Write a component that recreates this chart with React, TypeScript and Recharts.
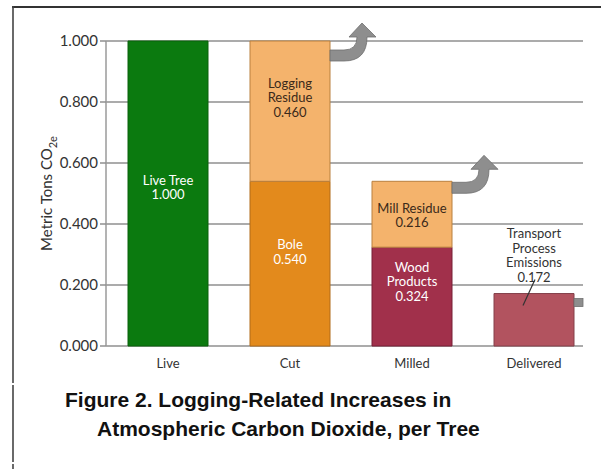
import React from 'react';
import {
  BarChart,
  Bar,
  XAxis,
  YAxis,
  CartesianGrid,
  Cell,
  LabelList,
} from 'recharts';

// Carbon per tree at each stage (metric tons CO2e)
const stages = ['Live', 'Cut', 'Milled', 'Delivered'];
const retainedValues = [1.0, 0.54, 0.324, 0.172];
const releasedValues = [0, 0.46, 0.216, 0];
const retainedNames = [['Live Tree'], ['Bole'], ['Wood', 'Products'], ['Transport', 'Process', 'Emissions']];
const releasedNames = [[], ['Logging', 'Residue'], ['Mill Residue'], []];
const yTicks = [0, 0.2, 0.4, 0.6, 0.8, 1.0];

const retainedColors = ['#0b7a0f', '#e38a1c', '#a1304b', '#b2535f'];
const retainedStrokes = ['#0a600c', '#b06a18', '#761f36', '#84404a'];
const releasedColor = '#f4b36c';
const releasedStroke = '#b9803f';

const data = stages.map((stage, i) => ({
  stage,
  retained: retainedValues[i],
  released: releasedValues[i],
}));

const FONT = 'Lato, "DejaVu Sans", sans-serif';
const LINE = 14.5;

const boxOf = (p: any) => {
  const vb = p.viewBox && p.viewBox.width !== undefined ? p.viewBox : p;
  return { x: Number(vb.x), y: Number(vb.y), width: Number(vb.width), height: Number(vb.height) };
};

// find which stage a segment belongs to from its value (zero-height segments get no label)
const stageOf = (values: number[], v: any) => values.findIndex((x) => x > 0 && Math.abs(x - Number(v)) < 1e-9);

const TextBlock = ({ cx, cy, lines, fill }: { cx: number; cy: number; lines: string[]; fill: string }) => {
  const start = cy - ((lines.length - 1) * LINE) / 2;
  return (
    <g>
      {lines.map((t, k) => (
        <text
          key={k}
          x={cx}
          y={start + k * LINE}
          textAnchor="middle"
          dominantBaseline="central"
          fill={fill}
          fontFamily={FONT}
          fontSize={13}
        >
          {t}
        </text>
      ))}
    </g>
  );
};

// how far below a segment's top its caption block is centred
const retainedDrop = [146, 70, 34];
const releasedDrop = [0, 56, 33.5];

const RetainedLabel = (props: any) => {
  const index = stageOf(retainedValues, props.value);
  if (index < 0) return null;
  const { x, y, width } = boxOf(props);
  const cx = x + width / 2;
  const lines = [...retainedNames[index], retainedValues[index].toFixed(3)];
  if (index === 3) {
    // caption sits above the short bar, with a leader line and an outgoing stub
    return (
      <g>
        <TextBlock cx={cx} cy={y - 17 - 1.5 * LINE} lines={lines} fill="#333" />
        <line x1={cx + 1} y1={y - 14} x2={cx - 11} y2={y + 12} stroke="#333" strokeWidth={1.2} />
        <rect x={x + width} y={y + 5} width={9} height={8} fill="#8e8e8e" stroke="#707070" strokeWidth={0.8} />
      </g>
    );
  }
  return <TextBlock cx={cx} cy={y + retainedDrop[index]} lines={lines} fill="#ffffff" />;
};

const ReleasedLabel = (props: any) => {
  const index = stageOf(releasedValues, props.value);
  if (index < 0) return null;
  const { x, y, width } = boxOf(props);
  const cx = x + width / 2;
  const lines = [...releasedNames[index], releasedValues[index].toFixed(3)];
  const ax = x + width;
  const ay = y + (index === 1 ? 9 : 1);
  const arrow = `M0,0 L14,0 Q27,0 27,-13 L19,-13 L32,-27 L46,-13 L37,-13 Q37,11 14,11 L0,11 Z`;
  return (
    <g>
      <TextBlock cx={cx} cy={y + releasedDrop[index]} lines={lines} fill="#3b2a1a" />
      <path d={arrow} transform={`translate(${ax},${ay})`} fill="#8e8e8e" stroke="#6e6e6e" strokeWidth={0.8} />
    </g>
  );
};

const StageTick = (props: any) => {
  const { x, y, payload } = props;
  return (
    <text x={x} y={y + 9} textAnchor="middle" dominantBaseline="central" fill="#333" fontFamily={FONT} fontSize={13}>
      {payload.value}
    </text>
  );
};

const YTitle = (props: any) => {
  const vb = props.viewBox;
  const cx = vb.x;
  const cy = vb.y + vb.height / 2;
  return (
    <text
      x={cx}
      y={cy}
      transform={`rotate(-90 ${cx} ${cy})`}
      textAnchor="middle"
      dominantBaseline="central"
      fill="#333"
      fontFamily={FONT}
      fontSize={15}
    >
      Metric Tons CO
      <tspan baselineShift="sub" fontSize={11}>2</tspan>
      <tspan baselineShift="sub" fontSize={11}>e</tspan>
    </text>
  );
};

export default function App() {
  return (
    <div style={{ position: 'absolute', left: 0, top: 0, width: 601, height: 469, background: '#fff', overflow: 'hidden' }}>
      <BarChart
        width={601}
        height={469}
        data={data}
        margin={{ top: 41, right: 18, bottom: 93, left: 46 }}
        barSize={80}
      >
        <CartesianGrid horizontal vertical={false} stroke="#8f8f8f" strokeWidth={1.5} />
        <XAxis
          dataKey="stage"
          height={30}
          axisLine={false}
          tickLine={false}
          padding={{ left: 1, right: -12 }}
          tick={<StageTick />}
          interval={0}
        />
        <YAxis
          width={60}
          domain={[0, 1]}
          ticks={yTicks}
          tickFormatter={(v: number) => v.toFixed(3)}
          axisLine={{ stroke: '#9a9a9a', strokeWidth: 1.5 }}
          tickLine={{ stroke: '#8f8f8f', strokeWidth: 1.5 }}
          tickSize={6}
          tick={{ fill: '#333', fontFamily: FONT, fontSize: 15 }}
          label={<YTitle />}
          interval={0}
        />
        <Bar dataKey="retained" stackId="s" isAnimationActive={false}>
          {data.map((d, i) => (
            <Cell key={d.stage} fill={retainedColors[i]} stroke={retainedStrokes[i]} strokeWidth={1} />
          ))}
          <LabelList dataKey="retained" content={<RetainedLabel />} />
        </Bar>
        <Bar dataKey="released" stackId="s" isAnimationActive={false}>
          {data.map((d) => (
            <Cell key={d.stage} fill={releasedColor} stroke={releasedStroke} strokeWidth={1} />
          ))}
          <LabelList dataKey="released" content={<ReleasedLabel />} />
        </Bar>
      </BarChart>
      <svg width={601} height={469} style={{ position: 'absolute', left: 0, top: 0, pointerEvents: 'none' }}>
        <line x1={12} y1={7} x2={601} y2={7} stroke="#333" strokeWidth={2} />
        <line x1={13} y1={6} x2={13} y2={383} stroke="#444" strokeWidth={1.6} />
        <line x1={13} y1={385} x2={13} y2={462} stroke="#444" strokeWidth={1.6} />
        <line x1={13} y1={464} x2={13} y2={469} stroke="#444" strokeWidth={1.6} />
        <text x={65} y={399} dominantBaseline="central" fontFamily='"Liberation Sans", Arial, sans-serif' fontWeight="bold" fontSize={21} fill="#111">
          Figure 2. Logging-Related Increases in
        </text>
        <text x={97} y={428} dominantBaseline="central" fontFamily='"Liberation Sans", Arial, sans-serif' fontWeight="bold" fontSize={21} fill="#111">
          Atmospheric Carbon Dioxide, per Tree
        </text>
      </svg>
    </div>
  );
}
